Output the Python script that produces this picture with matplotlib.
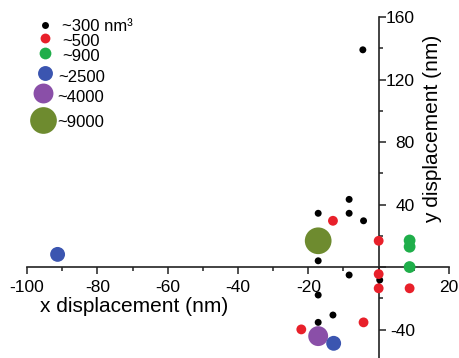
import matplotlib
matplotlib.use("Agg")
import matplotlib.pyplot as plt
from matplotlib.ticker import MultipleLocator, FixedLocator

plt.rcParams['font.family'] = ['Liberation Sans', 'DejaVu Sans']

# volume classes (legend labels) and colours
labels = ['~300 nm³', '~500', '~900', '~2500', '~4000', '~9000']
colors = ['#000000', '#e8202a', '#1fae4a', '#3b55b0', '#8a4fa8', '#6e8b2f']

# displacement of each particle, grouped by volume class
black_x = [-4.5, -17.2, -8.4, -8.4, -4.3, -17.2, -8.4, 0.3, -17.2, -13.0, -17.2]
black_y = [139, 34.4, 43.3, 34.4, 29.6, 4.0, -5.1, -8.3, -17.9, -30.7, -35.4]
red_x = [-13.0, 0.0, 0.0, 0.0, 8.8, -4.3, -22.0]
red_y = [29.6, 16.8, -4.5, -13.6, -13.6, -35.4, -39.9]
green_x = [8.8, 8.8, 8.8]
green_y = [17.0, 13.0, 0.0]
blue_x = [-91.3, -12.8]
blue_y = [8.1, -48.8]
purple_x = [-17.2]
purple_y = [-44.2]
olive_x = [-17.2]
olive_y = [16.8]

xticks = [-100, -80, -60, -40, -20, 0, 20]
xticklabels = ['-100', '-80', '-60', '-40', '-20', '', '20']
yticks = [-40, 0, 40, 80, 120, 160]
yticklabels = ['-40', '', '40', '80', '120', '160']

sizes = [25, 50, 72, 115, 205, 370]
series = [(black_x, black_y), (red_x, red_y), (green_x, green_y),
          (blue_x, blue_y), (purple_x, purple_y), (olive_x, olive_y)]
zorders = [4, 5, 5, 6, 3, 3]

W, H = 460, 358
fig = plt.figure(figsize=(W / 100, H / 100), dpi=100)
ax = fig.add_axes([27 / W, 0, 422 / W, 341 / H])

for (xs, ys), c, s, z in zip(series, colors, sizes, zorders):
    ax.scatter(xs, ys, s=s, color=c, edgecolors='none', zorder=z, clip_on=False)

ax.set_xlim(-100, 20)
ax.set_ylim(-58.2, 160)

# axes crossing at the origin
ax.spines['top'].set_visible(False)
ax.spines['left'].set_visible(False)
ax.spines['bottom'].set_position(('data', 0))
ax.spines['right'].set_position(('data', 0))
for sp in ['bottom', 'right']:
    ax.spines[sp].set_linewidth(1.2)
    ax.spines[sp].set_color('#222222')
ax.yaxis.set_ticks_position('right')
ax.xaxis.set_ticks_position('bottom')

ax.xaxis.set_major_locator(FixedLocator(xticks))
ax.set_xticklabels(xticklabels)
ax.xaxis.set_minor_locator(MultipleLocator(10))
ax.yaxis.set_major_locator(FixedLocator(yticks))
ax.set_yticklabels(yticklabels, ha='right')
ax.yaxis.set_minor_locator(MultipleLocator(20))

ax.tick_params(which='major', direction='out', length=5, width=1.1,
               color='#222222', labelsize=12.5)
ax.tick_params(which='minor', direction='out', length=3.2, width=1.1, color='#222222')
ax.tick_params(axis='x', which='major', pad=4.5)
ax.tick_params(axis='y', which='major', pad=21)

ax.text(0.2536, 0.135, 'x displacement (nm)', transform=ax.transAxes,
        ha='center', va='baseline', fontsize=15)
ax.text(0.962, 0.672, 'y displacement (nm)', transform=ax.transAxes,
        ha='center', va='center', rotation=90, fontsize=15)

# legend: column of markers with labels (pixel layout from the top-left)
leg_marker_y = [25, 38, 53, 72.7, 92.7, 120]
leg_marker_x = [45, 45, 45, 45, 43, 43]
leg_text_x = [62, 62, 62, 58, 57, 57]
leg_baseline = [30.7, 46, 60.7, 81.7, 101.7, 126.7]
for lab, c, s, mx, my, tx, tb in zip(labels, colors, sizes, leg_marker_x,
                                     leg_marker_y, leg_text_x, leg_baseline):
    fig.add_artist(plt.Line2D([mx / W], [1 - my / H], marker='o', linestyle='none',
                              markersize=s ** 0.5, color=c, markeredgewidth=0))
    fig.text(tx / W, 1 - tb / H, lab, ha='left', va='baseline', fontsize=12)

fig.savefig('out.png', dpi=100)
